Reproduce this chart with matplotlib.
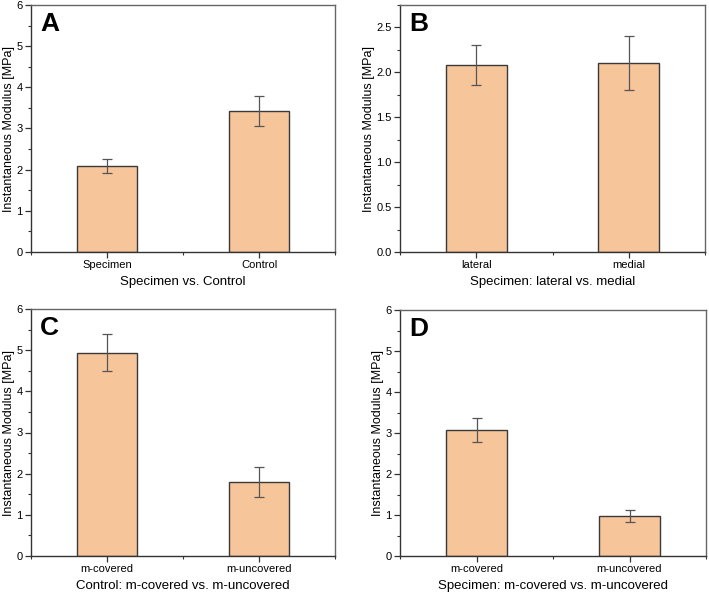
import numpy as np
import matplotlib
matplotlib.use("Agg")
import matplotlib.pyplot as plt
from matplotlib.ticker import MultipleLocator

plt.rcParams['font.family'] = ['Liberation Sans', 'DejaVu Sans']

# panel data
cats_a = ['Specimen', 'Control']
vals_a = [2.09, 3.43]
err_a = [0.18, 0.36]

cats_b = ['lateral', 'medial']
vals_b = [2.08, 2.10]
err_b = [0.22, 0.30]

cats_c = ['m-covered', 'm-uncovered']
vals_c = [4.94, 1.79]
err_c = [0.45, 0.36]

cats_d = ['m-covered', 'm-uncovered']
vals_d = [3.08, 0.97]
err_d = [0.29, 0.14]

panels = [
    ('A', cats_a, vals_a, err_a, 'Specimen vs. Control', 6, 1, 0.5),
    ('B', cats_b, vals_b, err_b, 'Specimen: lateral vs. medial', 2.75, 0.5, 0.25),
    ('C', cats_c, vals_c, err_c, 'Control: m-covered vs. m-uncovered', 6, 1, 0.5),
    ('D', cats_d, vals_d, err_d, 'Specimen: m-covered vs. m-uncovered', 6, 1, 0.5),
]

# axes boxes in pixels (x0, y0, x1, y1) from top-left
W, H = 709, 596
rects = [
    (31, 5, 335, 252),
    (400, 5, 705, 252),
    (31, 309, 335, 556),
    (400, 310, 706, 556),
]

fig = plt.figure(figsize=(W / 100, H / 100), dpi=100)
bar_color = '#f6c59a'

for (letter, cats, vals, errs, xlabel, ymax, major, minor), (x0, y0, x1, y1) in zip(panels, rects):
    ax = fig.add_axes([x0 / W, 1 - y1 / H, (x1 - x0) / W, (y1 - y0) / H])
    x = np.arange(len(cats))
    ax.bar(x, vals, width=0.4, color=bar_color, edgecolor='#3a3a3a', linewidth=1.0, zorder=2)
    ax.errorbar(x, vals, yerr=errs, fmt='none', ecolor='#555555', elinewidth=0.9,
                capsize=3.5, capthick=0.9, zorder=3)
    ax.set_xlim(-0.5, 1.5)
    ax.set_ylim(0, ymax)
    ax.set_xticks(x)
    ax.set_xticklabels(cats, fontsize=8)
    ax.xaxis.set_minor_locator(MultipleLocator(0.5))
    ax.yaxis.set_major_locator(MultipleLocator(major))
    ax.yaxis.set_minor_locator(MultipleLocator(minor))
    if major == 0.5:
        ax.yaxis.set_major_formatter(matplotlib.ticker.FormatStrFormatter('%.1f'))
    ax.tick_params(axis='both', which='major', labelsize=8, length=4, width=0.9,
                   direction='out', color='#333333', pad=2)
    ax.tick_params(axis='both', which='minor', length=2.5, width=0.8, direction='out',
                   color='#333333')
    ax.tick_params(top=False, right=False, which='both')
    for s in ['left', 'bottom']:
        ax.spines[s].set_color('#333333')
        ax.spines[s].set_linewidth(1.0)
    for s in ['top', 'right']:
        ax.spines[s].set_color('#666666')
        ax.spines[s].set_linewidth(1.0)
    ax.set_ylabel('Instantaneous Modulus [MPa]', fontsize=9, labelpad=1)
    ax.set_xlabel(xlabel, fontsize=9.5, labelpad=4)
    ax.text(0.03, 0.97, letter, transform=ax.transAxes, fontsize=19, fontweight='bold',
            ha='left', va='top')

fig.savefig('out.png', dpi=100)
